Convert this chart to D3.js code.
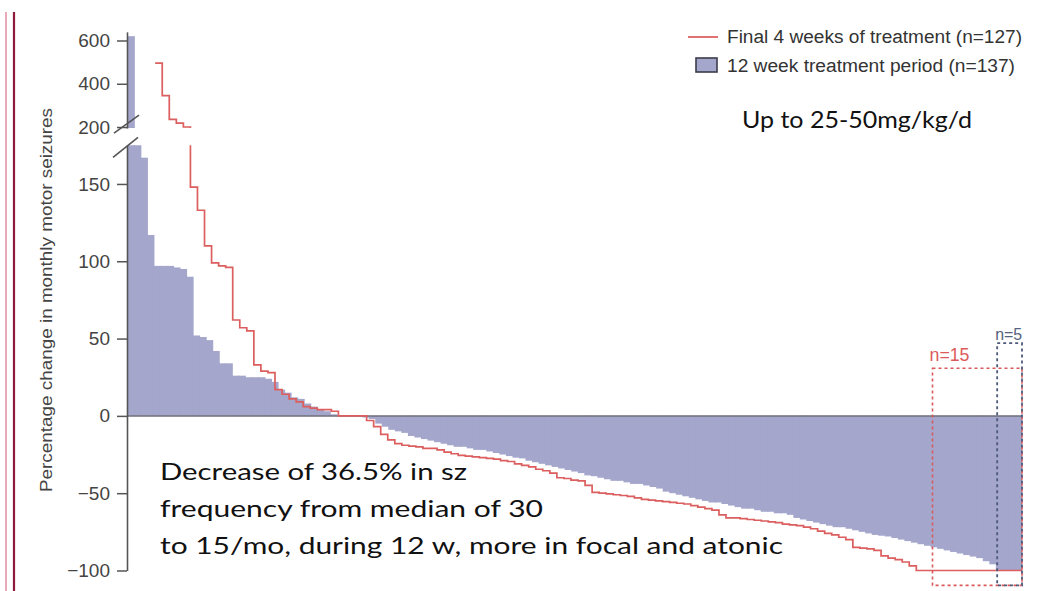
<!DOCTYPE html>
<html><head><meta charset="utf-8">
<script src="https://cdn.jsdelivr.net/npm/d3@7"></script>
<style>body{margin:0;background:#fff;} svg{display:block}</style>
</head><body>
<svg id="c" width="1044" height="591"></svg>
<script>
// 12 week treatment period, one value per patient (n=137), % change
const blueValues = [620,185,167,117,97,97,97,96,95,90,52,51,49,42,34,34,26,26,25,25,25,24,22,17,15,12,11,8,6,4,3,1,
  0,0,0,0,-1,-2,-5,-7,-9,-10,-11,-13,-14,-15,-16,-17,-18,-19,-20,-20,-21,-22,-22,-23,-24,-25,-26,-27,-27.5,
  -29,-30,-31,-32,-33,-34,-35,-36,-37,-38.5,-39,-40,-41,-42,-42,-43,-44,-44,-45,-46,-47,-49,-50,-51,-52,-53,
  -54,-55,-56,-56,-57,-58,-59,-60,-60,-61,-62,-62,-63,-63,-64,-66,-67,-68,-69,-70,-71,-72,-72,-73,-74,-75,
  -76,-77,-77.5,-78,-79,-80,-81,-82,-83,-84,-85,-86,-87,-88,-89,-90,-91,-92,-94,-96,-100,-100,-100,-100];
// Final 4 weeks of treatment (n=127); null = off the top of the scale
const redValues = [null,null,null,null,495,345,235,218,200,148,133,110,99,97,96,62,57,55,33,29,28,17,14,11,9,6,5,4,4,3,
  0,0,0,0,-3,-7,-12,-15.5,-18,-19,-19.5,-20,-21,-21,-22,-23.5,-24.5,-25.5,-26,-26.5,-27,-27.5,-28,-29,-29.5,
  -31,-32,-33,-34.5,-35.5,-37,-40,-40.5,-41.5,-42,-45,-49.5,-50,-50.5,-51,-51.5,-52,-53,-54,-54.5,-55,-55.5,
  -56,-56.5,-57,-58,-59,-60,-61,-64,-66,-66,-66.5,-67,-67.5,-68,-68.5,-69,-70,-70.5,-71,-72,-73,-74.5,-76,
  -77,-78.5,-80,-85,-85.5,-86,-87,-90.5,-92,-93,-94.5,-97,
  -100,-100,-100,-100,-100,-100,-100,-100,-100,-100,-100,-100,-100,-100,-100];
const upperTicks = [200,400,600];
const lowerTicks = [150,100,50,0,-50,-100];
const legendLabels = ["Final 4 weeks of treatment (n=127)", "12 week treatment period (n=137)"];
const yLabel = "Percentage change in monthly motor seizures";
const noteDose = "Up to 25-50mg/kg/d";
const noteLines = ["Decrease of 36.5% in sz","frequency from median of 30","to 15/mo, during 12 w, more in focal and atonic"];
// annotation boxes in data units: [fromIndex, toIndex, topValue, bottomValue]
const redBox = {from:114.3, to:127, top:30.8, bottom:-109.6, label:"n=15"};
const blueBox = {from:133.2, to:137, top:47, bottom:-109.6, label:"n=5"};

const BLUE = "#a4a6cc", RED = "#dc5e5e", AX = "#555";
const svg = d3.select("#c");
const X0 = 127, X1 = 1022;
const xb = d3.scaleBand().domain(d3.range(blueValues.length)).range([X0, X1]).padding(0);
const xr = d3.scaleLinear().domain([0, redValues.length]).range([X0, X1]);
const yU = d3.scaleLinear().domain([195, 640]).range([128.1, 31.85]);
const yL = d3.scaleLinear().domain([-100, 175]).range([570.5, 145.3]);
const BREAK = 176;
const y = v => v >= BREAK ? yU(v) : yL(v);

// left slide border
svg.append("line").attr("x1",6).attr("x2",6).attr("y1",12).attr("y2",591).attr("stroke","#e8a9b8").attr("stroke-width",2);
svg.append("line").attr("x1",14).attr("x2",14).attr("y1",12).attr("y2",591).attr("stroke","#8e1b3b").attr("stroke-width",2.2);

const defs = svg.append("defs");
defs.append("clipPath").attr("id","cu").append("rect").attr("x",X0).attr("y",0).attr("width",X1-X0+2).attr("height",yU(195));
defs.append("clipPath").attr("id","cl").append("rect").attr("x",X0).attr("y",yL(175)).attr("width",X1-X0+2).attr("height",591-yL(175));

const pts = [];
redValues.forEach((v,j)=>{ if(v==null) return; pts.push([xr(j), y(v)], [xr(j+1), y(v)]); });
const redPath = d3.line()(pts);

["cu","cl"].forEach(id=>{
  const g = svg.append("g").attr("clip-path",`url(#${id})`);
  g.selectAll("rect").data(blueValues).join("rect")
    .attr("x",(d,i)=>xb(i)).attr("width",(d,i)=> i===blueValues.length-1 ? xb.bandwidth() : xb.bandwidth()+1.3)
    .attr("y",d=>Math.min(y(d), y(0))).attr("height",d=>Math.abs(y(d)-y(0)))
    .attr("fill",BLUE);
  if(id==="cl") g.append("line").attr("x1",X0).attr("x2",X1).attr("y1",yL(0)).attr("y2",yL(0)).attr("stroke","#6e6e78").attr("stroke-width",1.5);
  g.append("path").attr("d",redPath).attr("fill","none").attr("stroke",RED).attr("stroke-width",1.7);
});

// axes
function styleAxis(g){
  g.selectAll("path.domain").attr("stroke",AX).attr("stroke-width",1.6);
  g.selectAll(".tick line").attr("stroke",AX).attr("stroke-width",1.5);
  g.selectAll(".tick text").attr("fill","#444").attr("font-size",19).attr("font-family","'Liberation Sans', Arial, sans-serif");
}
svg.append("g").attr("transform",`translate(${X0},0)`)
  .call(d3.axisLeft(yU).tickValues(upperTicks).tickSize(10).tickSizeOuter(0).tickPadding(7)).call(styleAxis);
svg.append("g").attr("transform",`translate(${X0},0)`)
  .call(d3.axisLeft(yL).tickValues(lowerTicks).tickSize(10).tickSizeOuter(0).tickPadding(7)
    .tickFormat(d=> d<0 ? "\u2212"+Math.abs(d) : d)).call(styleAxis);
// break marks
const brk = svg.append("g").attr("stroke",AX).attr("stroke-width",1.6);
brk.append("line").attr("x1",X0-13).attr("y1",yU(195)+5).attr("x2",X0+12).attr("y2",yU(195)-13);
brk.append("line").attr("x1",X0-14).attr("y1",yL(175)+12).attr("x2",X0+11).attr("y2",yL(175)-8);

// y label
svg.append("text").attr("transform","translate(52,300) rotate(-90)").attr("text-anchor","middle")
  .attr("font-family","'Liberation Sans', Arial, sans-serif").attr("font-size",17).attr("fill","#444")
  .attr("textLength",384).attr("lengthAdjust","spacingAndGlyphs").text(yLabel);

// annotation boxes
function box(b, xs, color, width){
  svg.append("rect").attr("x",xs(b.from)).attr("y",yL(b.top)).attr("width",xs(b.to)-xs(b.from)).attr("height",yL(b.bottom)-yL(b.top))
    .attr("fill","none").attr("stroke",color).attr("stroke-width",width).attr("stroke-dasharray","3,3");
}
const xbc = d3.scaleLinear().domain([0, blueValues.length]).range([X0, X1]);
box(redBox, xr, "#d9585a", 1.6);
box(blueBox, xbc, "#4d5a7a", 1.8);
svg.append("text").attr("x",xr(redBox.from)-3).attr("y",yL(redBox.top)-7).attr("fill","#dd5a5a")
  .attr("font-family","'Liberation Sans', Arial, sans-serif").attr("font-size",18).attr("textLength",40).attr("lengthAdjust","spacingAndGlyphs").text(redBox.label);
svg.append("text").attr("x",xbc(blueBox.from)-2).attr("y",yL(blueBox.top)-3).attr("fill","#55637d")
  .attr("font-family","'Liberation Sans', Arial, sans-serif").attr("font-size",17).attr("textLength",27).attr("lengthAdjust","spacingAndGlyphs").text(blueBox.label);

// legend
const lg = svg.append("g").attr("font-family","'Liberation Sans', Arial, sans-serif").attr("font-size",18).attr("fill","#333");
lg.append("line").attr("x1",688).attr("x2",718).attr("y1",37).attr("y2",37).attr("stroke","#e07272").attr("stroke-width",2);
lg.append("text").attr("x",727).attr("y",43).attr("textLength",295).attr("lengthAdjust","spacingAndGlyphs").text(legendLabels[0]);
lg.append("rect").attr("x",696).attr("y",58).attr("width",21).attr("height",14).attr("fill",BLUE).attr("stroke","#3c3c4c").attr("stroke-width",1.6);
lg.append("text").attr("x",727).attr("y",72).attr("textLength",288).attr("lengthAdjust","spacingAndGlyphs").text(legendLabels[1]);

// notes
const nf = "Lato, 'Open Sans', sans-serif";
svg.append("text").attr("x",742).attr("y",128).attr("font-family",nf).attr("font-size",24).attr("fill","#111")
  .attr("textLength",230).attr("lengthAdjust","spacingAndGlyphs").text(noteDose);
const noteLens = [307,383,623];
const noteBase = [480,517,554];
noteLines.forEach((t,i)=>{
  svg.append("text").attr("x",160).attr("y",noteBase[i]).attr("font-family",nf).attr("font-size",24).attr("fill","#111")
    .attr("textLength",noteLens[i]).attr("lengthAdjust","spacingAndGlyphs").text(t);
});
</script>
</body></html>
